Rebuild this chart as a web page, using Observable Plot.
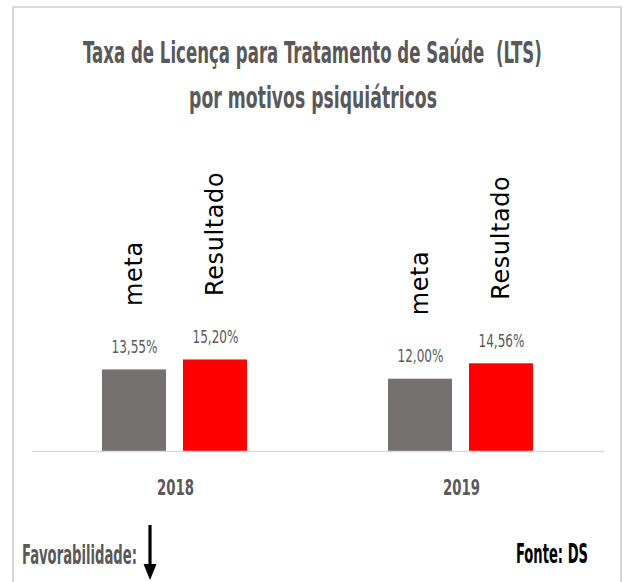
<!DOCTYPE html>
<html>
<head>
<meta charset="utf-8">
<script src="https://cdn.jsdelivr.net/npm/d3@7"></script>
<script src="https://cdn.jsdelivr.net/npm/@observablehq/plot@0.6"></script>
<style>
  html, body { margin: 0; padding: 0; background: #fff; }
  body { width: 623px; height: 582px; overflow: hidden; position: relative; }
  #frame { position: absolute; left: 12px; top: 6px; width: 610px; height: 700px; box-sizing: border-box;
           border: 2px solid #d9d9d9; border-bottom: none; }
  #chart { position: absolute; left: 0; top: 140px; width: 623px; height: 370px; }
  #overlay { position: absolute; left: 0; top: 0; pointer-events: none; }
</style>
</head>
<body>
<div id="frame"></div>
<div id="chart"></div>
<svg id="overlay" width="623" height="582"></svg>
<script>
// ---- data ----
const years = ["2018", "2019"];
const series = ["meta", "Resultado"];
const metaValues = [13.55, 12.00];
const resultadoValues = [15.20, 14.56];
const titleLines = ["Taxa de Licença para Tratamento de Saúde  (LTS)", "por motivos psiquiátricos"];
const footLeft = "Favorabilidade:";
const footRight = "Fonte: DS";

const data = years.flatMap((year, i) => [
  {year, series: "meta", value: metaValues[i]},
  {year, series: "Resultado", value: resultadoValues[i]}
]);
const fmt = v => v.toFixed(2).replace(".", ",") + "%";

const NARROW = "'Liberation Sans Narrow','Arial Narrow','DejaVu Sans Condensed','Liberation Sans',sans-serif";

const chart = Plot.plot({
  width: 623, height: 370,
  marginLeft: 31, marginRight: 19, marginTop: 40, marginBottom: 59,
  style: {fontFamily: NARROW, fontSize: "22px", fontWeight: "bold", color: "#595959", background: "transparent", overflow: "visible"},
  facet: {data, x: "year"},
  fx: {domain: years, padding: 0, axis: "bottom", label: null, tickSize: 0, tickPadding: 28},
  x: {domain: series, axis: null, paddingInner: 17 / 82, paddingOuter: 70 / 82},
  y: {domain: [0, 45], axis: null},
  color: {domain: series, range: ["#767171", "#ff0000"]},
  marks: [
    Plot.barY(data, {x: "series", y: "value", fill: "series"}),
    Plot.ruleY([0], {stroke: "#d9d9d9", strokeWidth: 1.5}),
    Plot.text(data, {x: "series", y: "value", text: d => fmt(d.value), dy: -23,
      fill: "#595959", fontSize: 18, fontWeight: "normal", fontFamily: NARROW}),
    Plot.text(data, {x: "series", y: "value", text: "series", rotate: -90, textAnchor: "start",
      dy: -64, fill: "#000", fontSize: 24, fontWeight: "normal", fontFamily: "'DejaVu Sans', Verdana, sans-serif"})
  ]
});
document.getElementById("chart").append(chart);

function squeeze(t, f) {
  const tr = t.getAttribute("transform") || "";
  t.setAttribute("transform", (tr + ` scale(${f},1)`).trim());
}
// horizontally condense the narrow labels to match the reference proportions
let fYear = null, fVal = null;
chart.querySelectorAll("text").forEach(t => {
  const s = t.textContent;
  if (/^\d{4}$/.test(s)) {
    if (fYear == null) fYear = 37 / t.getComputedTextLength();
    squeeze(t, fYear);
  } else if (/%$/.test(s)) {
    if (fVal == null) fVal = 46 / t.getComputedTextLength();
    squeeze(t, fVal);
  } else if (s === "meta" || s === "Resultado") {
    t.setAttribute("letter-spacing", "0.6");
  }
});

// ---- titles & footer ----
const ov = d3.select("#overlay");
function addText(str, x, y, size, weight, fill, anchor, targetW) {
  const t = ov.append("text")
    .attr("x", 0).attr("y", 0)
    .attr("font-family", NARROW).attr("font-size", size).attr("font-weight", weight)
    .attr("fill", fill).attr("text-anchor", anchor)
    .style("white-space", "pre")
    .text(str);
  const len = t.node().getComputedTextLength();
  const f = targetW / len;
  t.attr("transform", `translate(${x},${y}) scale(${f},1)`);
  return t;
}
addText(titleLines[0], 312.5, 63, 31, "bold", "#595959", "middle", 459);
addText(titleLines[1], 313, 108, 31, "bold", "#595959", "middle", 248);
addText(footLeft, 22, 564, 26, "bold", "#595959", "start", 115);
addText(footRight, 516, 563, 26, "bold", "#000000", "start", 72);

// favourability arrow (pointing down)
ov.append("line").attr("x1", 150).attr("x2", 150).attr("y1", 525).attr("y2", 567)
  .attr("stroke", "#000").attr("stroke-width", 3.2);
ov.append("path").attr("d", "M143.5,564 L156.5,564 L150,580 Z").attr("fill", "#000");
</script>
</body>
</html>
